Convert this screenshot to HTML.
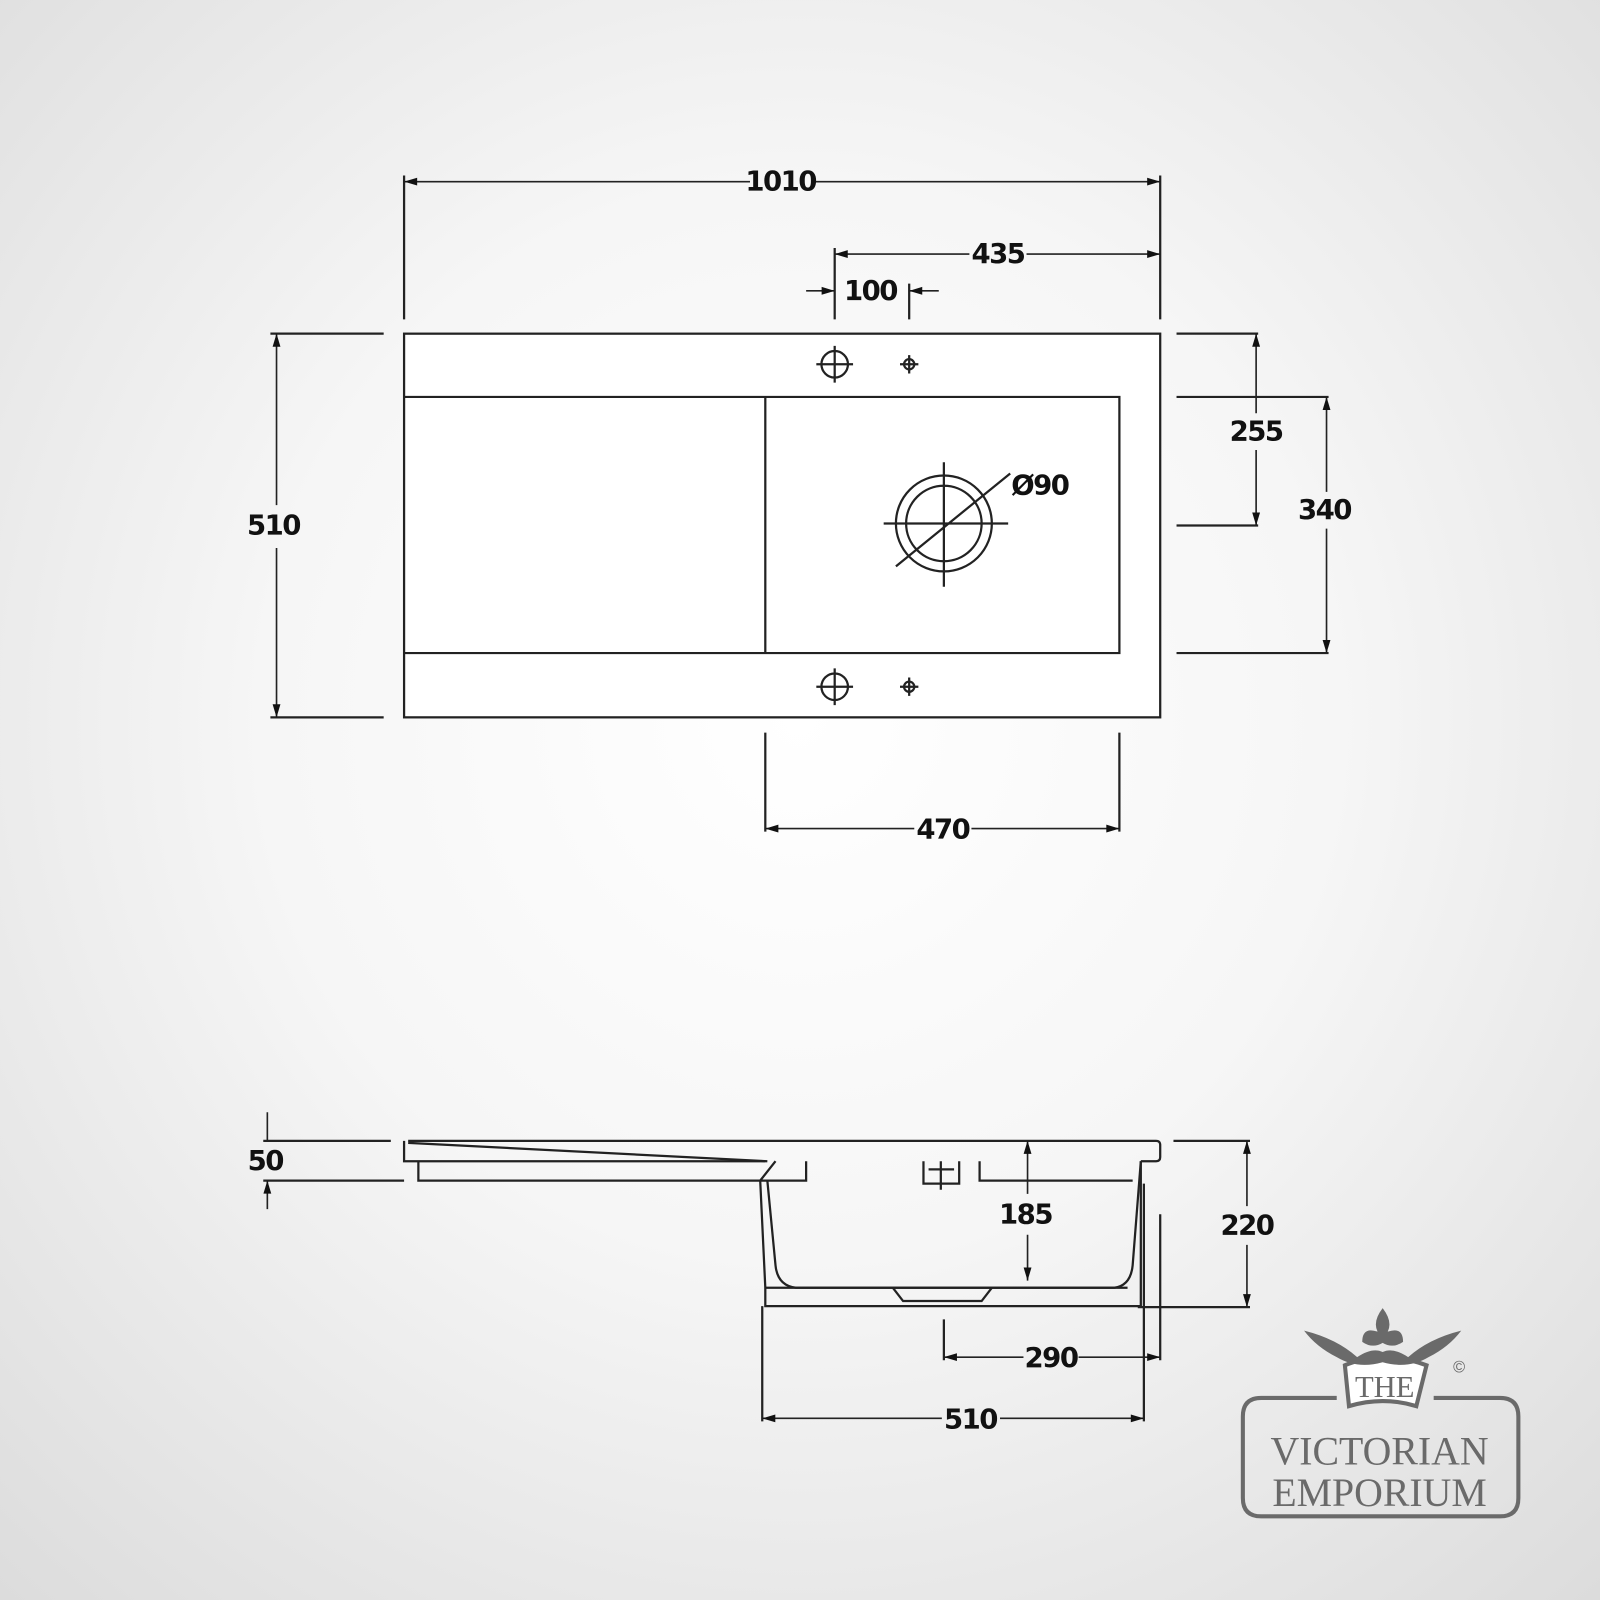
<!DOCTYPE html>
<html><head><meta charset="utf-8"><style>
html,body{margin:0;padding:0;width:1600px;height:1600px;overflow:hidden}
body{background:radial-gradient(circle at 50% 45%,#ffffff 0%,#f6f6f6 45%,#dcdcdc 100%)}
svg{position:absolute;left:0;top:0}
.t{font-family:"DejaVu Sans","Liberation Sans",sans-serif;font-weight:bold;font-size:27px;fill:#111;text-anchor:middle;dominant-baseline:central;letter-spacing:-1.5px}
</style></head><body>
<svg width="1600" height="1600" viewBox="0 0 1568 1568">
<defs><marker id="a" viewBox="0 0 10 10" refX="10" refY="5" markerWidth="10" markerHeight="8" orient="auto-start-reverse"><path d="M0,2 L10,5 L0,8 z" fill="#111"/></marker></defs>
<g stroke="#222" stroke-width="2.2" fill="none">
<!-- top view -->
<rect x="396" y="327" width="741" height="376" fill="#fff"/>
<path d="M396 389H1097V640H396M750 389V640"/>
<circle cx="818" cy="357" r="13"/><path d="M800 357H836M818 339V375"/>
<circle cx="891" cy="357" r="5"/><path d="M882 357H900M891 348V366"/>
<circle cx="818" cy="673" r="13"/><path d="M800 673H836M818 655V691"/>
<circle cx="891" cy="673" r="5"/><path d="M882 673H900M891 664V682"/>
<circle cx="925" cy="513" r="47"/><circle cx="925" cy="513" r="37"/>
<path d="M866 513H988M925 453V575M878 555L990 464"/>
<!-- dims top -->
<path d="M396 172V313M1137 172V313M818 243V313M891 278V313"/>
<path d="M396 178H735M795 178H1137" marker-start="url(#a)" marker-end="url(#a)" stroke-width="1.6"/>
<path d="M818 249H950M1006 249H1137" marker-start="url(#a)" marker-end="url(#a)" stroke-width="1.6"/>
<path d="M790 285H818" marker-end="url(#a)" stroke-width="1.6"/>
<path d="M920 285H891" marker-end="url(#a)" stroke-width="1.6"/>
<path d="M265 327H376M265 703H376"/>
<path d="M271 327V495M271 537V703" marker-start="url(#a)" marker-end="url(#a)" stroke-width="1.6"/>
<path d="M1153 327H1233M1153 515H1233"/>
<path d="M1231 327V405M1231 441V515" marker-start="url(#a)" marker-end="url(#a)" stroke-width="1.6"/>
<path d="M1153 389H1302M1153 640H1302"/>
<path d="M1300 389V482M1300 518V640" marker-start="url(#a)" marker-end="url(#a)" stroke-width="1.6"/>
<path d="M750 718V815M1097 718V815"/>
<path d="M750 812H896M952 812H1097" marker-start="url(#a)" marker-end="url(#a)" stroke-width="1.6"/>
<!-- side view -->
<path d="M400 1118H1133Q1137 1118 1137 1122V1134Q1137 1138 1133 1138H1118M396 1118V1138H750" fill="none"/>
<path d="M400 1120L752 1138"/>
<path d="M410 1138V1157H790V1138M760 1138L745 1157"/>
<path d="M745 1157L750 1262V1280H1118V1138"/>
<path d="M752 1157L760 1240Q762 1260 780 1262H1092Q1108 1260 1110 1240L1118 1138"/>
<path d="M750 1262H1105M905 1138V1160H940V1138M910 1146H935M922 1138V1166M960 1138V1157H1110"/>
<path d="M875 1262L885 1275H962L972 1262"/>
<path d="M258 1118H383M258 1157H396"/>
<path d="M262 1090V1118M262 1185V1157" marker-end="url(#a)" stroke-width="1.6"/>
<path d="M1007 1118V1170M1007 1210V1255" marker-start="url(#a)" marker-end="url(#a)" stroke-width="1.6"/>
<path d="M1150 1118H1225M1115 1281H1225"/>
<path d="M1222 1118V1182M1222 1220V1281" marker-start="url(#a)" marker-end="url(#a)" stroke-width="1.6"/>
<path d="M925 1293V1333M1137 1190V1333"/>
<path d="M925 1330H1003M1057 1330H1137" marker-start="url(#a)" marker-end="url(#a)" stroke-width="1.6"/>
<path d="M747 1280V1393M1121 1160V1393"/>
<path d="M747 1390H923M980 1390H1121" marker-start="url(#a)" marker-end="url(#a)" stroke-width="1.6"/>
</g>
<g class="t">
<text class="t" x="765" y="178">1010</text>
<text class="t" x="978" y="249">435</text>
<text class="t" x="853" y="285">100</text>
<text class="t" x="268" y="515">510</text>
<text class="t" x="1231" y="423">255</text>
<text class="t" x="1298" y="500">340</text>
<text class="t" x="1019" y="476">Ø90</text>
<text class="t" x="924" y="813">470</text>
<text class="t" x="260" y="1138">50</text>
<text class="t" x="1005" y="1190">185</text>
<text class="t" x="1222" y="1201">220</text>
<text class="t" x="1030" y="1331">290</text>
<text class="t" x="951" y="1391">510</text>
</g>
<!-- logo -->
<g fill="none" stroke="#6a6a6a" stroke-width="4">
<path d="M1310 1370H1236Q1218 1370 1218 1388V1468Q1218 1486 1236 1486H1470Q1488 1486 1488 1468V1388Q1488 1370 1470 1370H1405"/>
<path d="M1318 1338Q1355 1322 1398 1338L1388 1378Q1355 1368 1322 1378Z" fill="#fff"/>
</g>
<g fill="#6a6a6a">
<path d="M1278 1304Q1310 1312 1330 1330Q1345 1320 1355 1325Q1365 1320 1380 1330Q1400 1312 1432 1304Q1420 1320 1400 1330Q1380 1342 1355 1335Q1330 1342 1310 1330Q1290 1320 1278 1304Z"/>
<path d="M1355 1282Q1345 1295 1350 1305Q1335 1300 1335 1315Q1345 1322 1355 1316Q1365 1322 1375 1315Q1375 1300 1360 1305Q1365 1295 1355 1282Z"/>
</g>
<text x="1357" y="1369" font-family="Liberation Serif,serif" font-size="30" fill="#6a6a6a" text-anchor="middle">THE</text>
<text x="1430" y="1345" font-family="Liberation Sans,sans-serif" font-size="16" fill="#6a6a6a" text-anchor="middle">©</text>
<text x="1352" y="1435" font-family="Liberation Serif,serif" font-size="39" fill="#6a6a6a" text-anchor="middle">VICTORIAN</text>
<text x="1352" y="1476" font-family="Liberation Serif,serif" font-size="39" fill="#6a6a6a" text-anchor="middle">EMPORIUM</text>
</svg>
</body></html>
